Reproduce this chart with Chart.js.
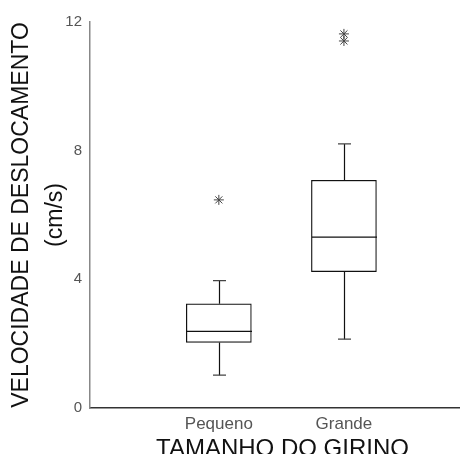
<!DOCTYPE html>
<html>
<head>
<meta charset="utf-8">
<script src="https://cdn.jsdelivr.net/npm/chart.js@4.4.0/dist/chart.umd.min.js"></script>
<style>
  html, body { margin: 0; padding: 0; background: #fff; overflow: hidden; }
  #wrap { width: 465px; height: 454px; }
</style>
</head>
<body>
<div id="wrap"><canvas id="boxChart"></canvas></div>
<script>
// Box plot values
const categories = ['Pequeno', 'Grande'];
const categoryPos = [1, 2];
const whiskerLow = [1.02, 2.14];
const q1 = [2.04, 4.24];
const median = [2.38, 5.31];
const q3 = [3.24, 7.08];
const whiskerHigh = [3.96, 8.21];
const outliersPequeno = [6.47];
const outliersGrande = [11.41, 11.63];
const yTicks = [0, 4, 8, 12];
const xTitle = 'TAMANHO DO GIRINO';

const FONT = "'Liberation Sans', Arial, sans-serif";

// whiskers, caps and median lines, drawn with the chart's own scales
const boxExtras = {
    id: 'boxExtras',
    afterDatasetsDraw(chart) {
        const { ctx, scales } = chart;
        const x = scales.x, y = scales.y;
        const meta = chart.getDatasetMeta(0);
        ctx.save();
        categoryPos.forEach((pos, i) => {
            const cx = Math.round(x.getPixelForValue(pos)) + 0.5;
            const half = meta.data[i].width / 2;
            const capHalf = 6.5;
            ctx.strokeStyle = '#111';
            ctx.lineWidth = 1.2;
            // median
            const ym = y.getPixelForValue(median[i]);
            ctx.beginPath();
            ctx.moveTo(cx - half, ym);
            ctx.lineTo(cx + half, ym);
            ctx.stroke();
            // whiskers
            const yHi = y.getPixelForValue(whiskerHigh[i]);
            const yLo = y.getPixelForValue(whiskerLow[i]);
            ctx.beginPath();
            ctx.moveTo(cx, y.getPixelForValue(q3[i]));
            ctx.lineTo(cx, yHi);
            ctx.moveTo(cx, y.getPixelForValue(q1[i]));
            ctx.lineTo(cx, yLo);
            ctx.stroke();
            // caps
            ctx.strokeStyle = '#444';
            ctx.beginPath();
            ctx.moveTo(cx - capHalf, yHi);
            ctx.lineTo(cx + capHalf, yHi);
            ctx.moveTo(cx - capHalf, yLo);
            ctx.lineTo(cx + capHalf, yLo);
            ctx.stroke();
        });
        ctx.restore();
    },
    afterDraw(chart) {
        // x axis title, a bit right of the scale centre like the original
        const { ctx, chartArea } = chart;
        ctx.save();
        ctx.font = '24px ' + FONT;
        ctx.fillStyle = '#111';
        ctx.textAlign = 'center';
        ctx.textBaseline = 'alphabetic';
        ctx.fillText(xTitle, (chartArea.left + chartArea.right) / 2 + 8, chartArea.bottom + 48);
        ctx.restore();
    }
};

const ctx = document.getElementById('boxChart').getContext('2d');
new Chart(ctx, {
    type: 'bar',
    data: {
        datasets: [
            {
                label: 'Caixa',
                data: categoryPos.map((p, i) => ({ x: p, y: [q1[i], q3[i]] })),
                backgroundColor: '#ffffff',
                borderColor: '#111',
                borderWidth: 1.2,
                borderSkipped: false,
                barThickness: 65
            },
            {
                type: 'scatter',
                label: 'Outliers Pequeno',
                data: outliersPequeno.map(v => ({ x: categoryPos[0], y: v })),
                pointStyle: 'star',
                radius: 5,
                borderColor: '#444',
                borderWidth: 1,
                backgroundColor: '#444'
            },
            {
                type: 'scatter',
                label: 'Outliers Grande',
                data: outliersGrande.map(v => ({ x: categoryPos[1], y: v })),
                pointStyle: 'star',
                radius: 5,
                borderColor: '#444',
                borderWidth: 1,
                backgroundColor: '#444'
            }
        ]
    },
    options: {
        responsive: true,
        maintainAspectRatio: false,
        animation: false,
        layout: { padding: { top: 22, right: 0, bottom: 0, left: 0 } },
        plugins: {
            legend: { display: false },
            tooltip: { enabled: false }
        },
        scales: {
            x: {
                type: 'linear',
                min: -0.03,
                max: 2.92,
                offset: false,
                grid: { display: false, drawTicks: false },
                border: { display: true, color: '#333', width: 1.5 },
                afterBuildTicks: scale => { scale.ticks = categoryPos.map(v => ({ value: v })); },
                afterFit: scale => { scale.height = 46; },
                ticks: {
                    padding: 6,
                    color: '#555',
                    font: { family: FONT, size: 17 },
                    callback: v => categories[categoryPos.indexOf(v)]
                }
            },
            y: {
                min: 0,
                max: 12,
                grid: { display: false, drawTicks: false },
                border: { display: true, color: '#888', width: 1.5 },
                afterBuildTicks: scale => { scale.ticks = yTicks.map(v => ({ value: v })); },
                afterFit: scale => { scale.width = 90; },
                ticks: {
                    padding: 8,
                    color: '#555',
                    font: { family: FONT, size: 15 }
                },
                title: {
                    display: true,
                    text: ['VELOCIDADE DE DESLOCAMENTO', '(cm/s)'],
                    color: '#111',
                    font: { family: FONT, size: 23, lineHeight: 34 / 23 },
                    padding: { top: 5, bottom: 0 }
                }
            }
        }
    },
    plugins: [boxExtras]
});
</script>
</body>
</html>
